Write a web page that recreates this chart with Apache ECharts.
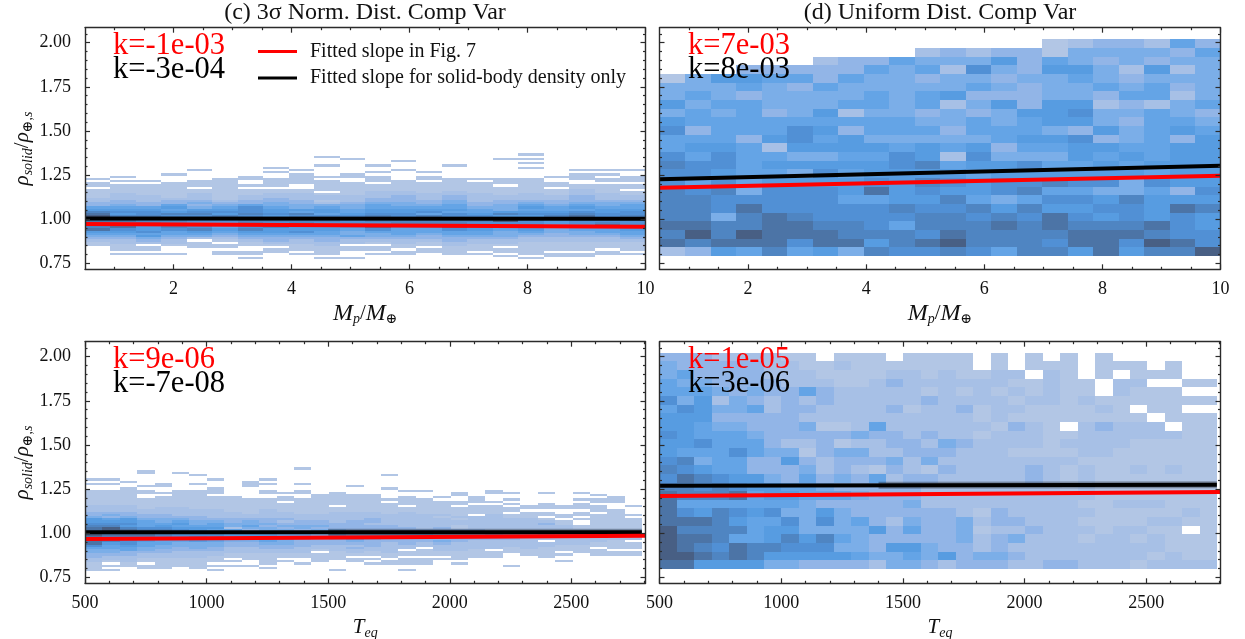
<!DOCTYPE html>
<html>
<head>
<meta charset="utf-8">
<title>Comp Var</title>
<script src="https://cdn.jsdelivr.net/npm/echarts@6/dist/echarts.min.js"></script>
<style>
  body { margin: 0; background: #fff; }
  #chart { width: 1245px; height: 639px; }
</style>
</head>
<body>
<div id="chart"></div>
<script>
// density level of each 2d histogram cell, 0 = empty cell
// normal dist panels: one list per column, rows 48 (top) down to 0
const massNormLevels = [
  [0,0,0,0,0,0,0,0,0,0, 0,1,0,1,1,0,1,1,1,1, 2,2,3,3,5,6,8,9,10,9, 9,8,7,8,9,6,5,4,3,2, 1,1,0,0,0,0,0,0,0],
  [0,0,0,0,0,0,0,0,0,0, 1,0,1,0,1,1,1,1,2,2, 2,3,3,4,5,6,7,6,8,9, 9,7,8,9,7,6,5,4,3,2, 2,1,1,1,0,1,0,0,0],
  [0,0,0,0,0,0,0,0,0,0, 0,0,1,0,1,1,1,1,1,2, 2,2,3,3,5,6,7,7,8,8, 8,8,7,6,6,7,5,6,4,3, 2,0,1,1,0,1,0,0,0],
  [0,0,0,0,0,0,0,0,0,1, 0,0,0,1,1,1,1,1,1,1, 2,3,3,5,6,5,6,8,7,7, 8,7,6,8,7,5,5,4,3,2, 2,1,0,0,0,1,0,0,0],
  [0,0,0,0,0,0,0,1,0,0, 0,0,1,1,1,0,1,1,2,2, 2,3,4,3,4,6,7,8,7,9, 7,6,5,7,8,6,5,4,2,0, 1,1,1,0,0,0,0,0,0],
  [0,0,0,0,0,0,0,0,0,0, 0,1,1,1,1,1,1,1,1,1, 1,2,3,4,5,6,7,6,8,9, 7,6,6,5,6,5,4,3,2,1, 0,1,1,0,1,1,0,0,0],
  [0,0,0,0,0,0,0,0,0,0, 1,1,0,0,1,0,1,1,1,2, 2,3,3,5,7,7,7,8,7,8, 8,8,9,7,8,6,5,4,3,2, 1,1,0,0,1,1,0,1,0],
  [0,0,0,0,0,0,1,0,1,0, 0,1,1,1,1,0,1,1,2,2, 3,3,4,4,5,6,6,7,6,7, 8,7,7,8,6,6,5,4,3,3, 2,1,0,1,1,0,0,0,0],
  [0,0,0,0,0,0,0,1,0,1, 1,1,1,1,0,0,1,1,2,2, 2,3,3,4,4,6,5,8,7,8, 8,8,7,6,6,7,5,4,3,2, 2,1,1,1,0,1,0,0,0],
  [0,1,0,0,0,1,0,0,0,0, 1,0,1,1,1,1,1,0,1,2, 2,1,2,4,5,6,6,5,7,8, 8,7,7,6,6,5,5,4,3,3, 2,2,1,1,1,1,0,1,0],
  [0,0,1,0,0,0,0,0,0,1, 1,0,0,1,1,1,1,1,1,2, 2,2,3,4,4,5,5,6,7,8, 7,7,6,6,5,4,4,5,3,2, 2,0,1,1,0,0,0,1,0],
  [0,0,0,0,0,1,0,0,1,0, 1,1,1,0,1,1,1,2,2,2, 3,3,4,5,5,6,6,7,8,8, 8,7,6,9,7,5,4,4,3,2, 1,0,1,1,0,1,0,0,0],
  [0,0,0,1,0,0,0,1,0,0, 0,0,1,1,1,1,1,2,2,3, 3,3,4,4,5,6,6,7,7,7, 8,8,7,6,5,5,5,4,3,2, 2,1,1,0,1,1,0,0,0],
  [0,0,0,0,0,0,0,0,1,0, 1,1,0,1,1,1,1,1,2,2, 2,3,3,4,5,6,7,5,8,8, 8,8,7,6,5,5,4,3,3,2, 1,1,0,1,1,0,0,0,0],
  [0,0,0,0,0,1,0,0,0,0, 0,1,1,1,1,1,1,2,2,3, 3,4,4,5,5,6,5,7,7,8, 8,8,7,9,7,5,5,4,3,3, 2,2,1,1,1,1,0,0,0],
  [0,0,0,0,0,0,0,0,0,0, 0,1,0,1,1,1,1,1,2,2, 2,2,3,3,4,5,5,6,7,7, 8,7,7,6,6,5,5,4,3,2, 2,1,1,1,0,1,0,0,0],
  [0,0,1,0,0,0,0,0,0,0, 0,1,1,1,0,1,1,1,1,2, 2,3,3,4,4,4,6,8,6,9, 10,7,6,5,5,4,4,4,3,2, 2,1,0,1,1,0,1,0,0],
  [1,0,1,0,1,0,1,0,0,0, 0,1,1,1,1,1,1,1,2,2, 2,3,4,5,6,5,6,7,6,8, 7,7,7,9,6,5,4,3,2,2, 1,1,1,1,1,1,0,1,0],
  [0,0,0,0,0,0,0,0,0,0, 1,0,0,1,1,0,1,1,1,2, 2,3,3,4,5,5,6,7,8,7, 6,6,5,5,4,4,3,3,2,2, 1,1,1,1,0,1,1,0,0],
  [0,0,0,0,0,0,0,1,0,1, 1,1,0,0,1,1,2,2,2,3, 3,3,4,5,6,5,7,8,9,9, 7,7,6,6,5,4,4,3,2,2, 1,1,1,1,0,1,1,0,0],
  [0,0,0,0,0,0,0,1,0,1, 0,1,1,0,1,1,1,1,2,2, 2,3,4,4,5,6,6,7,7,8, 7,8,9,7,5,5,4,3,2,2, 1,1,1,0,1,1,0,0,0],
  [0,0,0,0,0,0,0,1,0,0, 1,1,1,0,1,1,0,1,1,2, 2,3,4,5,5,6,7,7,8,7, 7,7,7,6,6,5,5,4,3,2, 1,1,1,1,0,1,0,0,0]
]
const teqNormLevels = [
  [0,0,0,0,0,1,0,1,0,0, 1,1,1,1,1,1,1,2,2,2, 3,3,4,6,6,7,8,9,9,10, 10,9,8,9,9,7,5,4,4,3, 3,2,2,1,1,1,1,0,0],
  [0,0,0,0,0,1,0,1,0,0, 1,1,1,1,1,1,1,2,2,2, 3,4,3,5,6,7,8,10,10,10, 9,8,8,8,6,5,5,4,4,3, 2,2,1,0,1,0,1,0,0],
  [0,0,0,0,0,0,1,0,0,1, 1,1,1,1,1,1,1,2,2,2, 3,3,4,6,6,7,6,8,9,9, 9,8,9,7,7,6,5,5,3,3, 2,2,2,1,1,0,0,0,0],
  [0,1,1,0,0,0,0,0,1,0, 1,1,0,0,1,1,1,1,1,2, 2,3,3,4,5,5,5,7,8,9, 9,8,7,6,5,5,4,4,3,2, 2,1,1,0,1,1,0,0,0],
  [0,0,0,0,0,0,0,1,1,0, 0,1,0,1,1,1,1,1,2,2, 2,3,3,4,4,5,6,7,8,8, 8,7,6,5,5,4,4,3,3,2, 2,1,1,1,1,1,0,0,0],
  [0,0,1,0,0,0,0,0,0,0, 1,1,1,1,1,1,1,1,2,2, 2,2,3,4,5,6,5,6,7,7, 7,6,6,5,4,4,3,3,2,2, 2,1,1,1,1,0,0,0,0],
  [0,0,0,1,0,0,0,1,0,0, 1,1,1,1,1,1,1,1,1,2, 2,2,3,3,4,4,5,6,6,6, 7,7,6,6,4,4,4,3,2,2, 2,1,1,1,1,1,0,0,0],
  [0,0,0,0,0,1,0,0,0,1, 1,1,0,1,1,1,1,1,1,2, 2,2,2,3,4,5,5,6,5,6, 7,6,5,5,4,4,3,3,2,2, 1,1,1,0,1,0,1,0,0],
  [0,0,0,0,0,0,0,0,0,0, 0,0,0,1,1,1,1,1,1,1, 2,2,2,3,3,4,4,2,5,6, 6,5,4,4,3,3,2,2,2,1, 1,0,1,0,1,0,0,0,0],
  [0,0,0,0,0,0,1,1,1,0, 0,0,0,0,1,1,1,1,1,1, 1,2,2,3,4,4,5,4,3,5, 6,5,4,4,3,3,2,2,2,1, 1,1,0,0,1,0,0,0,0],
  [0,0,0,0,0,1,0,1,0,0, 1,1,0,0,1,1,1,1,1,2, 2,2,2,3,3,4,3,4,4,5, 6,6,5,5,4,3,3,2,2,1, 1,1,1,1,0,1,0,0,0],
  [0,0,0,0,0,0,0,0,0,0, 0,1,0,1,1,0,1,1,1,1, 2,2,2,3,2,3,4,3,4,5, 5,5,5,4,4,3,3,2,2,1, 1,0,1,0,0,0,0,0,0],
  [1,0,0,0,0,0,0,1,0,0, 1,1,0,0,1,1,1,1,1,1, 1,2,2,2,3,3,4,4,3,5, 5,4,4,3,3,3,2,2,2,1, 1,0,0,1,0,0,0,0,0],
  [0,0,0,0,0,0,0,0,0,0, 0,0,1,1,1,1,1,1,1,1, 1,2,2,2,3,3,4,3,4,5, 4,4,3,3,3,2,2,1,0,1, 1,1,1,0,0,0,0,0,0],
  [0,0,0,0,0,0,0,0,0,0, 0,1,1,1,1,1,1,0,1,1, 2,2,2,2,2,3,3,3,4,5, 5,5,4,3,3,2,2,2,1,1, 1,1,0,0,0,0,1,0,0],
  [0,0,0,0,0,0,0,0,1,0, 0,0,1,1,1,1,1,1,1,1, 2,2,2,2,3,3,3,3,3,3, 4,4,5,4,3,2,3,2,2,1, 0,1,1,0,0,0,0,0,0],
  [0,0,0,0,0,0,0,0,0,0, 0,0,1,1,1,1,1,1,1,1, 2,2,2,3,3,2,3,3,3,3, 4,4,4,3,3,3,2,2,1,1, 0,1,0,1,0,0,0,0,0],
  [0,0,0,1,0,0,0,0,0,1, 0,0,0,0,1,0,1,1,1,1, 1,2,2,2,2,2,3,3,3,3, 4,4,3,3,2,2,2,2,2,1, 1,0,1,1,0,0,0,0,0],
  [0,0,0,0,0,0,0,0,0,0, 1,0,0,1,1,1,1,0,1,1, 2,2,2,2,2,2,2,3,3,3, 4,4,3,3,3,2,2,0,1,1, 0,1,1,1,0,0,1,0,0],
  [0,0,0,0,0,0,0,0,0,0, 1,0,0,0,1,1,1,1,1,1, 1,2,2,2,2,2,2,2,3,3, 4,3,3,3,2,2,0,1,1,1, 0,1,1,1,0,0,0,0,0],
  [0,0,0,0,0,0,0,0,0,0, 0,0,0,1,0,1,1,1,1,1, 1,2,1,2,2,2,2,3,3,3, 3,3,3,4,3,2,2,2,1,1, 0,1,0,0,0,0,0,0,0],
  [0,0,0,0,0,0,0,0,0,0, 0,1,1,0,0,1,1,0,1,1, 1,1,2,1,2,2,1,1,3,3, 3,3,3,3,2,2,2,2,1,1, 1,1,0,1,0,0,0,0,0],
  [0,0,0,0,0,0,0,0,0,0, 0,0,0,1,1,1,0,1,1,1, 1,0,2,2,2,2,2,2,3,3, 3,3,3,2,2,2,2,1,1,1, 1,0,0,0,0,0,0,0,0],
  [0,0,0,0,0,0,0,0,0,0, 1,1,0,0,0,1,0,1,1,1, 1,2,2,2,2,2,2,2,2,3, 4,3,3,2,2,2,2,0,1,1, 1,0,0,0,0,0,0,0,0],
  [0,0,0,0,0,0,0,0,0,0, 0,1,0,0,1,0,1,0,1,1, 0,1,1,2,2,2,2,2,2,3, 3,3,3,2,2,2,1,1,1,0, 0,0,0,0,1,0,0,0,0],
  [0,0,0,0,0,0,0,0,0,0, 0,0,0,0,0,0,0,1,1,0, 1,1,1,2,2,2,2,2,2,2, 2,2,2,2,2,2,2,1,1,1, 0,0,0,0,0,0,0,0,0],
  [0,0,0,0,0,0,0,0,0,0, 0,1,0,0,0,0,1,1,1,0, 1,1,0,1,2,3,2,2,2,2, 3,2,2,0,2,2,1,1,1,1, 1,0,0,0,0,0,0,0,0],
  [0,0,0,0,0,0,0,0,0,0, 0,0,0,0,0,0,0,1,1,0, 0,1,1,0,1,1,2,2,2,2, 2,2,2,2,2,1,1,1,0,1, 0,0,1,0,0,0,0,0,0],
  [0,0,0,0,0,0,0,0,0,0, 0,1,0,0,1,0,1,1,1,0, 1,1,0,1,0,0,1,1,2,2, 2,2,2,2,2,1,1,1,1,0, 0,0,0,0,0,0,0,0,0],
  [0,0,0,0,0,0,0,0,0,0, 0,0,1,0,1,1,0,1,1,1, 0,1,1,1,1,1,1,1,2,2, 2,2,2,2,1,1,0,1,1,1, 0,0,0,0,0,0,0,0,0],
  [0,0,0,0,0,0,0,0,0,0, 0,0,0,1,1,1,0,0,0,1, 1,1,1,1,1,1,1,1,2,2, 2,2,2,1,1,1,1,0,1,1, 0,0,0,0,0,0,0,0,0],
  [0,0,0,0,0,0,0,0,0,0, 0,0,0,0,0,0,0,1,0,0, 0,1,0,1,1,1,1,1,2,2, 2,2,2,0,1,1,1,0,1,1, 0,0,0,0,0,0,0,0,0]
]
// uniform dist panels: one list per row, top row first
const massUniformLevels = [
  [0,0,0,0,0,0,0,0,0,0,0,0,0,0,0,1,2,3,3,2,5,3],
  [0,0,0,0,0,0,0,0,0,0,2,3,2,3,3,1,4,4,4,4,3,5],
  [0,0,0,0,0,0,2,3,3,5,4,4,4,6,3,5,4,3,4,3,4,4],
  [0,0,0,3,3,3,3,3,5,4,5,2,7,4,3,6,6,4,2,6,2,4],
  [1,4,6,6,5,5,3,5,4,4,3,4,4,3,4,4,5,4,3,4,4,4],
  [4,4,4,5,4,3,5,4,4,4,4,4,5,4,3,4,4,5,4,5,3,4],
  [4,5,4,3,4,4,4,4,5,4,5,6,3,3,3,4,4,3,5,5,2,4],
  [6,4,5,5,4,4,4,5,5,4,5,2,4,6,3,6,6,2,3,2,4,5],
  [4,5,4,5,3,4,6,2,4,4,3,4,3,4,6,6,7,4,4,5,4,3],
  [6,5,5,5,5,5,5,5,5,5,4,4,5,4,5,6,6,4,3,5,5,4],
  [7,3,5,5,5,7,6,3,5,5,5,3,5,5,5,4,3,6,4,5,6,5],
  [5,5,5,3,6,7,5,6,4,4,4,4,4,5,6,6,7,3,4,5,3,6],
  [5,6,6,5,2,6,6,6,6,5,6,5,6,3,5,5,6,6,5,5,6,6],
  [7,5,7,5,5,4,4,5,5,7,6,2,7,4,4,4,6,5,6,5,6,6],
  [8,7,7,5,6,6,6,6,6,7,8,5,6,6,7,5,5,6,5,6,6,6],
  [7,7,6,5,5,4,7,5,6,6,6,6,5,6,6,6,6,6,6,5,6,6],
  [7,5,7,5,6,6,6,6,7,6,8,7,6,7,7,8,7,7,4,7,6,6],
  [8,7,8,4,7,7,7,6,9,6,7,6,6,7,8,5,5,4,4,5,3,7],
  [8,8,7,7,7,7,7,5,5,6,6,8,5,4,5,7,7,6,8,6,6,6],
  [8,8,7,9,7,7,7,7,7,8,7,7,8,6,8,6,6,7,7,6,9,8],
  [8,8,4,8,9,8,7,7,7,7,8,8,7,8,7,9,7,6,7,6,7,6],
  [9,9,8,8,9,9,8,8,7,5,8,8,8,9,8,9,8,8,8,9,7,6],
  [8,10,8,10,9,9,9,8,8,8,7,9,8,8,8,8,9,9,9,8,7,7],
  [9,8,9,9,9,7,9,9,6,8,9,10,8,8,8,7,9,9,7,10,9,7],
  [2,3,6,5,8,5,6,4,8,7,7,8,7,5,8,8,6,9,6,8,8,10]
]
const teqUniformLevels = [
  [3,3,3,2,2,2,2,1,1,0,1,1,1,0,1,1,1,1,0,1,0,1,0,1,0,1,0,0,0,0,0,0],
  [4,3,3,3,3,3,2,2,1,1,2,1,1,1,1,1,1,1,0,1,0,1,1,1,0,1,1,1,0,1,0,0],
  [4,5,3,3,3,3,2,2,2,1,1,1,1,2,2,1,2,1,1,2,2,0,2,1,0,1,0,1,1,1,0,0],
  [5,4,4,3,3,3,3,2,2,2,1,1,2,3,2,2,2,2,2,2,1,1,2,1,1,0,2,2,0,0,1,1],
  [5,5,5,4,3,4,3,3,5,3,2,2,2,2,2,1,2,1,2,1,2,1,2,1,1,0,2,1,1,1,0,0],
  [7,4,6,2,4,3,2,3,2,3,2,2,2,2,2,3,2,2,2,2,1,2,2,1,2,1,1,1,1,1,1,1],
  [5,7,6,4,4,5,2,3,3,2,2,2,2,3,1,2,2,3,1,2,2,1,1,1,1,2,1,0,1,1,0,0],
  [6,6,6,3,3,3,3,3,2,2,2,2,2,2,2,2,2,2,1,2,1,1,1,1,1,1,1,1,0,1,1,1],
  [6,6,5,4,4,3,3,3,4,1,1,2,5,2,2,2,2,2,2,1,3,2,1,0,2,3,2,2,2,0,1,1],
  [7,6,5,5,5,4,3,3,3,3,3,4,3,3,2,3,2,2,1,2,2,2,1,1,2,2,2,2,2,2,1,1],
  [6,6,7,5,5,5,3,2,2,3,1,2,2,3,3,2,4,3,2,2,2,2,1,2,2,2,2,1,1,1,1,1],
  [6,5,5,5,7,5,4,4,1,3,4,4,2,2,3,3,3,2,2,2,1,1,1,1,2,2,1,1,1,1,1,1],
  [7,8,4,5,5,3,3,6,3,2,3,3,3,4,2,4,2,2,2,2,2,2,2,2,1,1,1,1,1,1,1,1],
  [8,7,6,5,5,3,3,3,4,2,3,2,1,3,2,1,3,2,2,2,2,3,2,1,2,1,1,2,1,2,1,1],
  [7,9,8,7,6,6,4,3,5,3,4,3,5,2,3,3,2,2,2,2,2,3,2,1,2,1,1,1,1,1,1,1],
  [8,8,7,8,7,6,6,5,5,4,3,3,3,3,3,2,2,2,2,2,2,2,2,1,2,1,1,1,1,1,1,1],
  [9,8,8,8,9,5,6,6,5,5,5,4,3,3,3,2,2,2,2,2,2,2,2,2,2,1,1,1,1,1,1,1],
  [9,5,5,5,5,5,5,5,4,3,3,3,3,3,4,2,2,2,2,2,2,2,2,2,1,1,2,2,2,1,1,1],
  [9,7,6,8,7,6,7,4,4,6,4,3,3,3,3,3,3,2,1,3,2,2,2,2,2,1,1,1,1,1,2,1],
  [9,9,9,8,6,5,5,7,4,7,4,5,3,2,4,3,3,4,2,3,3,2,2,2,1,1,1,1,2,2,1,1],
  [10,8,8,8,8,5,6,6,4,4,4,4,6,3,5,3,3,4,1,2,2,3,2,2,2,1,2,2,1,1,0,1],
  [10,9,9,8,5,5,6,8,6,8,5,4,3,3,3,3,3,4,2,3,4,2,2,2,1,2,2,1,2,1,1,1],
  [10,9,8,7,9,8,8,7,7,7,4,4,3,6,6,4,3,3,2,3,2,2,2,2,2,2,2,2,2,1,1,1],
  [10,10,9,8,9,8,6,6,6,6,6,5,4,4,5,4,6,3,4,4,3,2,2,2,2,2,2,2,1,2,1,1],
  [9,9,6,6,6,6,4,4,3,3,3,3,2,4,4,3,2,3,3,3,2,2,3,3,2,2,2,1,2,2,2,2]
]

// fitted lines, [x, y] at both ends of each panel
const fitRedMassNorm = [[0.5, 0.973], [10, 0.957]]
const fitBlackMassNorm = [[0.5, 1.004], [10, 1.002]]
const fitRedMassUniform = [[0.5, 1.178], [10, 1.246]]
const fitBlackMassUniform = [[0.5, 1.226], [10, 1.303]]
const fitRedTeqNorm = [[500, 0.967], [2805, 0.986]]
const fitBlackTeqNorm = [[500, 1.005], [2790, 1.005]]
const fitRedTeqUniform = [[500, 1.211], [2805, 1.233]]
const fitBlackTeqUniform = [[500, 1.269], [2790, 1.275]]
// grey spread around the black line at high Teq
const spreadTeqNorm = [[1500, 1.005], [2790, 1.005]]
const spreadTeqUniform = [[1400, 1.272], [2790, 1.275]]

const massMajorTicks = [2, 4, 6, 8, 10]
const massMinorTicks = [1, 1.5, 2.5, 3, 3.5, 4.5, 5, 5.5, 6.5, 7, 7.5, 8.5, 9, 9.5]
const teqMajorTicks = [500, 1000, 1500, 2000, 2500]
const teqMinorTicks = [600, 700, 800, 900, 1100, 1200, 1300, 1400, 1600, 1700, 1800, 1900, 2100, 2200, 2300, 2400, 2600, 2700, 2800]
const yMajorTicks = [0.75, 1, 1.25, 1.5, 1.75, 2]
const yMinorTicks = [0.8, 0.85, 0.9, 0.95, 1.05, 1.1, 1.15, 1.2, 1.3, 1.35, 1.4, 1.45, 1.55, 1.6, 1.65, 1.7, 1.8, 1.85, 1.9, 1.95, 2.05]

const panelTitles = ['(c) 3σ Norm. Dist. Comp Var', '(d) Uniform Dist. Comp Var']
const legendNames = ['Fitted slope in Fig. 7', 'Fitted slope for solid-body density only']
const slopeLabels = [['k=-1e-03', 'k=-3e-04'], ['k=7e-03', 'k=8e-03'], ['k=9e-06', 'k=-7e-08'], ['k=1e-05', 'k=3e-06']]

const levelColors = ['#ffffff', '#b2c6e5', '#a7c0e6', '#92b5e7', '#7baee8', '#64a4e6', '#579ce1', '#5190d5', '#4f85c2', '#4c74a6', '#485f84']
const serif = '"Liberation Serif", "DejaVu Serif", serif'
const axisColor = '#2b2b2b'

const grids = [
  { left: 85, top: 27.7, width: 560.5, height: 241.6, outerBoundsMode: 'none' },
  { left: 659.5, top: 27.7, width: 561, height: 241.6, outerBoundsMode: 'none' },
  { left: 85, top: 341.7, width: 560.5, height: 241.6, outerBoundsMode: 'none' },
  { left: 659.5, top: 341.7, width: 561, height: 241.6, outerBoundsMode: 'none' }
]

function cellsFromColumns(columns, xStart, xStep, yStart, yStep) {
  let cells = []
  columns.forEach((column, c) => {
    column.forEach((level, i) => {
      let r = column.length - 1 - i
      if (level > 0) {
        cells.push([xStart + c * xStep, xStart + (c + 1) * xStep, yStart + r * yStep, yStart + (r + 1) * yStep, level])
      }
    })
  })
  return cells
}

function cellsFromRows(rows, xStart, xStep, yStart, yStep) {
  let cells = []
  rows.forEach((row, i) => {
    let r = rows.length - 1 - i
    row.forEach((level, c) => {
      if (level > 0) {
        cells.push([xStart + c * xStep, xStart + (c + 1) * xStep, yStart + r * yStep, yStart + (r + 1) * yStep, level])
      }
    })
  })
  return cells
}

function renderCell(params, api) {
  let p0 = api.coord([api.value(0), api.value(3)])
  let p1 = api.coord([api.value(1), api.value(2)])
  let x = Math.round(p0[0])
  let y = Math.round(p0[1])
  return {
    type: 'rect',
    shape: { x: x, y: y, width: Math.round(p1[0]) - x, height: Math.round(p1[1]) - y },
    style: { fill: levelColors[api.value(4)] }
  }
}

function tickAxis(gridIndex, position, range, ticks, length, showLine) {
  return {
    type: 'value',
    gridIndex: gridIndex,
    position: position,
    min: range[0],
    max: range[1],
    z: 10,
    splitLine: { show: false },
    axisLine: { show: showLine, onZero: false, lineStyle: { color: axisColor, width: 1.4 } },
    axisTick: { show: true, inside: true, length: length, customValues: ticks, lineStyle: { color: axisColor, width: 1.2 } },
    axisLabel: { show: false }
  }
}

const mathRich = {
  i: { fontFamily: serif, fontStyle: 'italic', fontSize: 21, color: '#111', lineHeight: 26, verticalAlign: 'middle' },
  m: { fontFamily: serif, fontStyle: 'italic', fontSize: 24, color: '#111', lineHeight: 26, verticalAlign: 'middle' },
  r: { fontFamily: serif, fontSize: 21, color: '#111', lineHeight: 26, verticalAlign: 'middle' },
  s: { fontFamily: serif, fontStyle: 'italic', fontSize: 14, color: '#111', lineHeight: 20, verticalAlign: 'bottom' }
}

function xAxesFor(gridIndex, range, major, minor, labels, name) {
  let main = tickAxis(gridIndex, 'bottom', range, major, 5, true)
  main.axisLabel = {
    show: true,
    customValues: labels,
    margin: 11,
    color: '#111',
    fontFamily: serif,
    fontSize: 18,
    hideOverlap: false,
    formatter: v => String(v)
  }
  main.name = name
  main.nameLocation = 'middle'
  main.nameGap = 31
  main.nameTextStyle = { rich: mathRich }
  return [
    main,
    tickAxis(gridIndex, 'bottom', range, minor, 2.5, false),
    tickAxis(gridIndex, 'top', range, major, 5, true),
    tickAxis(gridIndex, 'top', range, minor, 2.5, false)
  ]
}

function yAxesFor(gridIndex, showLabels) {
  let range = [0.716, 2.085]
  let main = tickAxis(gridIndex, 'left', range, yMajorTicks, 5, true)
  if (showLabels) {
    main.axisLabel = {
      show: true,
      customValues: yMajorTicks,
      margin: 14,
      color: '#111',
      fontFamily: serif,
      fontSize: 18,
      padding: [4, 0, 0, 0],
      formatter: v => v.toFixed(2)
    }
    main.name = '{i|ρ}{s|solid}{r|/}{i|ρ}{s|⊕,s}'
    main.nameLocation = 'middle'
    main.nameRotate = 90
    main.nameGap = 49
    main.nameTextStyle = { rich: mathRich }
  }
  return [
    main,
    tickAxis(gridIndex, 'left', range, yMinorTicks, 2.5, false),
    tickAxis(gridIndex, 'right', range, yMajorTicks, 5, true),
    tickAxis(gridIndex, 'right', range, yMinorTicks, 2.5, false)
  ]
}

const massRange = [0.5, 10]
const teqRange = [500, 2805]
const massName = '{m|M}{s|p}{r|/}{m|M}{s|⊕}'
const teqName = '{i|T}{s|eq}'

const xAxes = [
  ...xAxesFor(0, massRange, massMajorTicks, massMinorTicks, massMajorTicks, massName),
  ...xAxesFor(1, massRange, massMajorTicks, massMinorTicks, massMajorTicks, massName),
  ...xAxesFor(2, teqRange, teqMajorTicks, teqMinorTicks, teqMajorTicks, teqName),
  ...xAxesFor(3, teqRange, teqMajorTicks, teqMinorTicks, teqMajorTicks, teqName)
]
const yAxes = [...yAxesFor(0, true), ...yAxesFor(1, false), ...yAxesFor(2, true), ...yAxesFor(3, false)]

const panelCells = [
  cellsFromColumns(massNormLevels, 0.5, 9.5 / 22, 0.76, 0.0125),
  cellsFromRows(massUniformLevels, 0.5, 9.5 / 22, 0.791, 0.0491),
  cellsFromColumns(teqNormLevels, 500, 71.6, 0.76, 0.0125),
  cellsFromRows(teqUniformLevels, 500, 71.6, 0.797, 0.049)
]
const panelFits = [
  [fitRedMassNorm, fitBlackMassNorm, null],
  [fitRedMassUniform, fitBlackMassUniform, null],
  [fitRedTeqNorm, fitBlackTeqNorm, spreadTeqNorm],
  [fitRedTeqUniform, fitBlackTeqUniform, spreadTeqUniform]
]

let series = []
panelCells.forEach((cells, g) => {
  series.push({
    type: 'custom',
    xAxisIndex: g * 4,
    yAxisIndex: g * 4,
    renderItem: renderCell,
    encode: { x: [0, 1], y: [2, 3] },
    data: cells,
    clip: true,
    silent: true,
    z: 2
  })
  if (panelFits[g][2]) {
    series.push({
      type: 'line',
      xAxisIndex: g * 4,
      yAxisIndex: g * 4,
      data: panelFits[g][2],
      symbol: 'none',
      silent: true,
      z: 3,
      lineStyle: { color: '#000', width: 7, opacity: 0.3 }
    })
  }
  // black goes under red, same as the picture
  series.push({
    name: legendNames[1],
    type: 'line',
    xAxisIndex: g * 4,
    yAxisIndex: g * 4,
    data: panelFits[g][1],
    symbol: 'none',
    silent: true,
    z: 3,
    itemStyle: { color: '#000' },
    lineStyle: { color: '#000', width: 4 }
  })
  series.push({
    name: legendNames[0],
    type: 'line',
    xAxisIndex: g * 4,
    yAxisIndex: g * 4,
    data: panelFits[g][0],
    symbol: 'none',
    silent: true,
    z: 4,
    itemStyle: { color: '#ff0000' },
    lineStyle: { color: '#ff0000', width: 4 }
  })
})

const titleStyle = { color: '#111', fontFamily: serif, fontWeight: 'normal', fontSize: 24 }
let titles = [
  { text: panelTitles[0], left: 365, top: 1, textAlign: 'center', textStyle: titleStyle, padding: 0 },
  { text: panelTitles[1], left: 940, top: 1, textAlign: 'center', textStyle: titleStyle, padding: 0 }
]
const slopeLefts = [113, 688, 113, 688]
const slopeTops = [30, 30, 344, 344]
slopeLabels.forEach((pair, g) => {
  pair.forEach((text, n) => {
    titles.push({
      text: text,
      left: slopeLefts[g],
      top: slopeTops[g] + n * 24,
      padding: 0,
      z: 20,
      textStyle: { color: n === 0 ? '#ff0000' : '#000', fontFamily: serif, fontWeight: 'normal', fontSize: 30.5 }
    })
  })
})

const myChart = echarts.init(document.getElementById('chart'))
myChart.setOption({
  animation: false,
  backgroundColor: '#fff',
  title: titles,
  grid: grids,
  xAxis: xAxes,
  yAxis: yAxes,
  series: series,
  legend: {
    data: legendNames.map(name => ({ name: name, icon: 'rect' })),
    orient: 'vertical',
    left: 258,
    top: 41.5,
    padding: 0,
    itemWidth: 39,
    itemHeight: 3,
    itemGap: 6.5,
    selectedMode: false,
    z: 20,
    textStyle: { color: '#111', fontFamily: serif, fontSize: 20, padding: [0, 0, 0, 8] }
  }
})
</script>
</body>
</html>
